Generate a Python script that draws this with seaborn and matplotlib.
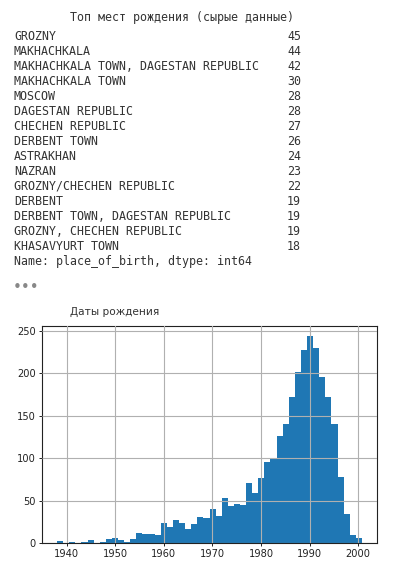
import numpy as np
import pandas as pd
import matplotlib
matplotlib.use("Agg")
import matplotlib.pyplot as plt
import seaborn as sns

# Top places of birth (raw value_counts output)
places = [
    "GROZNY", "MAKHACHKALA", "MAKHACHKALA TOWN, DAGESTAN REPUBLIC",
    "MAKHACHKALA TOWN", "MOSCOW", "DAGESTAN REPUBLIC", "CHECHEN REPUBLIC",
    "DERBENT TOWN", "ASTRAKHAN", "NAZRAN", "GROZNY/CHECHEN REPUBLIC",
    "DERBENT", "DERBENT TOWN, DAGESTAN REPUBLIC", "GROZNY, CHECHEN REPUBLIC",
    "KHASAVYURT TOWN",
]
place_counts = [45, 44, 42, 30, 28, 28, 27, 26, 24, 23, 22, 19, 19, 19, 18]

# Birth year histogram (50 bins), counts
first_year = 1938.0
last_year = 2000.8
year_counts = [2, 0, 1, 0, 1, 3, 0, 1, 5, 6,
               3, 1, 5, 12, 11, 11, 9, 24, 19, 27,
               24, 17, 22, 31, 30, 40, 32, 53, 44, 46,
               45, 71, 59, 76, 95, 99, 126, 140, 172, 201,
               227, 244, 230, 195, 172, 140, 78, 34, 9, 6]

W, H = 393, 574
fig = plt.figure(figsize=(W / 100, H / 100), dpi=100)

mono = dict(family="DejaVu Sans Mono", fontsize=8.4, color="#333333", va="center")

def fy(py):
    return 1 - py / H

# text output block
fig.text(70 / W, fy(17), "Топ мест рождения (сырые данные)", ha="left", **mono)
row_step = (246 - 37) / (len(places) - 1)
for i, (name, cnt) in enumerate(zip(places, place_counts)):
    y = fy(37 + i * row_step)
    fig.text(14 / W, y, name, ha="left", **mono)
    fig.text(301 / W, y, str(cnt), ha="right", **mono)
fig.text(14 / W, fy(262), "Name: place_of_birth, dtype: int64", ha="left", **mono)

# collapsed output marker
fig.text(13 / W, fy(288), "•••", ha="left", va="center",
         fontsize=11, color="#888888", family="DejaVu Sans")

# histogram
fig.text(70 / W, fy(312), "Даты рождения", ha="left", va="center",
         fontsize=7.6, color="#333333", family="DejaVu Sans")

ax = fig.add_axes([42 / W, 1 - 543 / H, (377 - 42) / W, (543 - 325.7) / H])
edges = np.linspace(first_year, last_year, len(year_counts) + 1)
hist_df = pd.DataFrame({"year": (edges[:-1] + edges[1:]) / 2,
                        "count": year_counts})
sns.histplot(data=hist_df, x="year", weights="count", bins=list(edges), ax=ax,
             color="#1f77b4", alpha=1, edgecolor="none", linewidth=0)

ax.set_xlim(1934.9, 2003.9)
ax.set_ylim(0, 256)
ax.set_xticks([1940, 1950, 1960, 1970, 1980, 1990, 2000])
ax.set_yticks([0, 50, 100, 150, 200, 250])
ax.grid(True, color="#b0b0b0", linewidth=0.8)
ax.set_axisbelow(False)
for p in ax.patches:
    p.set_zorder(1)
for gl in ax.get_xgridlines() + ax.get_ygridlines():
    gl.set_zorder(2)
ax.tick_params(labelsize=7.1, length=2.5, width=0.7, pad=2, colors="#222222")
ax.set_xlabel("")
ax.set_ylabel("")
for s in ax.spines.values():
    s.set_linewidth(0.8)
    s.set_color("#222222")

fig.savefig("out.png", dpi=100)
